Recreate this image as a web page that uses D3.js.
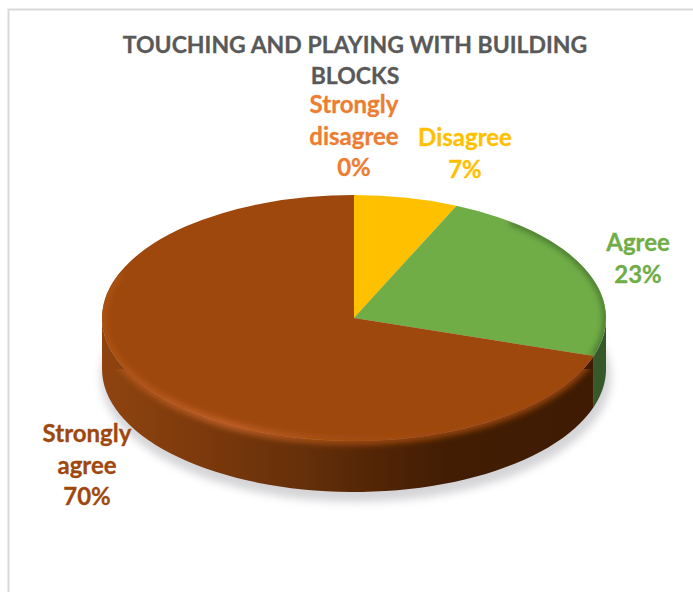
<!DOCTYPE html>
<html>
<head>
<meta charset="utf-8">
<script src="https://cdn.jsdelivr.net/npm/d3@7"></script>
<style>
  html, body { margin: 0; padding: 0; background: #fff; }
  svg { display: block; }
  text { font-family: Lato, "Open Sans", sans-serif; font-weight: 700; text-anchor: middle; }
</style>
</head>
<body>
<div id="chart"></div>
<script>
const categories = ["Strongly disagree", "Disagree", "Agree", "Strongly agree"];
const counts = [0, 2, 7, 21];
const percentLabels = ["0%", "7%", "23%", "70%"];
const topColors = ["#ED7D31", "#FFC000", "#70AD47", "#9E480E"];
const titleLines = ["TOUCHING AND PLAYING WITH BUILDING", "BLOCKS"];

const width = 693, height = 592;
const cx = 354, cy = 318, rx = 252, ry = 123, depth = 51;

const svg = d3.select("#chart").append("svg")
  .attr("width", width)
  .attr("height", height);

const defs = svg.append("defs");

defs.append("filter").attr("id", "soft")
  .attr("x", "-10%").attr("y", "-20%").attr("width", "120%").attr("height", "140%")
  .append("feGaussianBlur").attr("stdDeviation", 4);

defs.append("filter").attr("id", "rimBlur")
  .attr("x", "-10%").attr("y", "-20%").attr("width", "120%").attr("height", "140%")
  .append("feGaussianBlur").attr("stdDeviation", 3);

// side wall shading runs left to right
const wall = defs.append("linearGradient").attr("id", "wallBrown")
  .attr("gradientUnits", "userSpaceOnUse")
  .attr("x1", cx - rx).attr("x2", cx + rx).attr("y1", 0).attr("y2", 0);
[[0, "#8f4410"], [0.2, "#7c390c"], [0.4, "#65300a"], [0.52, "#552606"], [0.68, "#421d04"], [1, "#3f1b03"]]
  .forEach(s => wall.append("stop").attr("offset", s[0]).attr("stop-color", s[1]));

const rimGrad = defs.append("linearGradient").attr("id", "rimBrown")
  .attr("gradientUnits", "userSpaceOnUse")
  .attr("x1", cx - rx).attr("x2", cx + rx).attr("y1", 0).attr("y2", 0);
[[0, "#ad5216"], [0.25, "#c4622a"], [0.45, "#a84f14"], [0.7, "#9e480e"], [1, "#9e480e"]]
  .forEach(s => rimGrad.append("stop").attr("offset", s[0]).attr("stop-color", s[1]));

// chart frame, runs off the right and bottom of the crop
svg.append("rect")
  .attr("x", 8.5).attr("y", 9.5)
  .attr("width", width + 20).attr("height", height + 20)
  .attr("fill", "#fff")
  .attr("stroke", "#d9d9d9")
  .attr("stroke-width", 2);

const x = d3.scaleLinear().domain([-1, 1]).range([cx - rx, cx + rx]);
const y = d3.scaleLinear().domain([-1, 1]).range([cy - ry, cy + ry]);

const pie = d3.pie().sort(null).value(d => d);
const slices = pie(counts);

const arc = d3.arc().innerRadius(0).outerRadius(rx);

const onRim = a => [x(Math.sin(a)), y(-Math.cos(a))];

// shadow under the disc
svg.append("ellipse")
  .attr("cx", cx + 2).attr("cy", cy + depth + 8)
  .attr("rx", rx + 3).attr("ry", ry + 2)
  .attr("fill", "#d4d4d8")
  .attr("filter", "url(#soft)");

// side walls, only the part that faces the viewer
const front0 = Math.PI / 2, front1 = Math.PI * 1.5;
const wallFill = { 2: "#37592a", 3: "url(#wallBrown)" };

svg.append("g").selectAll("path")
  .data(slices.filter(d => d.endAngle > front0 && d.startAngle < front1 && d.value > 0))
  .enter().append("path")
  .attr("fill", d => wallFill[d.index])
  .attr("d", d => {
    const a0 = Math.max(d.startAngle, front0), a1 = Math.min(d.endAngle, front1);
    const pts = d3.range(0, 61).map(i => onRim(a0 + (a1 - a0) * i / 60));
    const bottom = pts.map(p => [p[0], p[1] + depth]).reverse();
    return d3.line()(pts.concat(bottom)) + "Z";
  });

// top face
const face = svg.append("g")
  .attr("transform", `translate(${cx},${cy}) scale(1,${ry / rx})`);

face.selectAll("path")
  .data(slices)
  .enter().append("path")
  .attr("d", arc)
  .attr("fill", (d, i) => topColors[i]);

// bevel: soft light band along the front edge, dark one on the green edge
defs.append("clipPath").attr("id", "discClip")
  .append("path")
  .attr("d", () => {
    const pts = d3.range(0, 121).map(i => onRim(i / 120 * Math.PI * 2));
    const low = d3.range(0, 61).map(i => onRim(front0 + (front1 - front0) * i / 60))
      .map(p => [p[0], p[1] + depth]);
    return d3.line()(pts) + "Z " + d3.line()(low) + "Z";
  });

const rim = svg.append("g").attr("clip-path", "url(#discClip)");
const rimLine = d3.line();

const rimPath = (a0, a1) => rimLine(d3.range(0, 61).map(i => onRim(a0 + (a1 - a0) * i / 60)));

rim.append("path")
  .attr("d", rimPath(slices[3].startAngle + 0.02, Math.PI * 1.62))
  .attr("fill", "none")
  .attr("stroke", "url(#rimBrown)")
  .attr("stroke-width", 7)
  .attr("filter", "url(#rimBlur)");

rim.append("path")
  .attr("d", rimPath(slices[2].startAngle + 0.25, slices[2].endAngle))
  .attr("fill", "none")
  .attr("stroke", "#3f6a2c")
  .attr("stroke-width", 5)
  .attr("filter", "url(#rimBlur)");

// title
svg.append("g").selectAll("text")
  .data(titleLines)
  .enter().append("text")
  .attr("x", 355)
  .attr("y", (d, i) => 53 + i * 31)
  .attr("font-size", 23)
  .attr("fill", "#595959")
  .attr("stroke", "#595959")
  .attr("stroke-width", 0.3)
  .text(d => d);

// data labels
const labelLines = [
  ["Strongly", "disagree", percentLabels[0]],
  ["Disagree", percentLabels[1]],
  ["Agree", percentLabels[2]],
  ["Strongly", "agree", percentLabels[3]]
];
const labelAnchor = [[354, 113], [465, 146], [638, 251], [87, 442]];
const labelStep = 31.5;

const labels = svg.append("g").selectAll("g")
  .data(categories)
  .enter().append("g")
  .attr("transform", (d, i) => `translate(${labelAnchor[i][0]},${labelAnchor[i][1]})`)
  .attr("fill", (d, i) => topColors[i])
  .attr("stroke", (d, i) => topColors[i])
  .attr("stroke-width", 0.3);

labels.selectAll("text")
  .data((d, i) => labelLines[i])
  .enter().append("text")
  .attr("y", (d, i) => i * labelStep)
  .attr("font-size", 24)
  .text(d => d);
</script>
</body>
</html>
